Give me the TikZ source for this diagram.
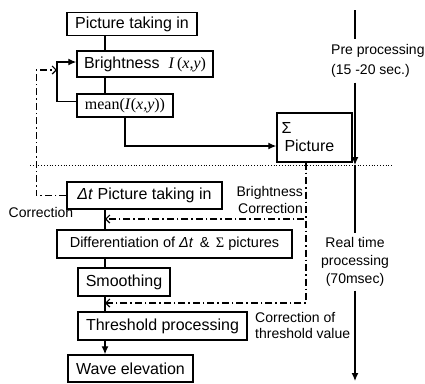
\documentclass[tikz,border=0pt]{standalone}
\usepackage{fontspec}
\setmainfont{Liberation Sans}
\newfontfamily\tmsfont{Liberation Serif}
\usetikzlibrary{arrows.meta,positioning,calc}
\tikzset{
  pbox/.style={rectangle, draw=black, line width=1.4pt, inner sep=2pt, align=center,
               font=\fontsize{16}{18}\selectfont, minimum height=26pt},
  plink/.style={line width=1.3pt},
  parr/.style={-{Latex[length=8pt,width=7pt]}, line width=1.3pt},
  pcorr/.style={-{Straight Barb[length=4pt,width=8pt]}, line width=1.2pt,
                dash pattern=on 7pt off 3pt on 1.5pt off 3pt},
  plbl/.style={font=\fontsize{14}{17}\selectfont, inner sep=0pt},
}
\begin{document}
\begin{tikzpicture}[x=1pt,y=-1pt]
  \useasboundingbox (0,0) rectangle (425,383);
  % pre processing
  \node[pbox,minimum width=130pt,minimum height=23pt](pic) at (132,24){Picture taking in};
  \node[pbox,minimum width=136pt](bright) at (145,64){Brightness\ \ {\tmsfont\textit{I}\,(\textit{x,y})}};
  \node[pbox,minimum width=96pt,minimum height=23pt](mean) at (125,105.5){\tmsfont mean(\textit{I}(\textit{x,y}))};
  \node[pbox,minimum width=75pt,minimum height=49pt,text width=66pt,inner sep=4pt,align=left](sigma) at (314.5,137.5){Σ\\\hspace*{3pt}Picture};
  % real time processing
  \node[pbox,minimum width=155pt,minimum height=27pt](dtpic) at (144.5,195.5){\textit{Δt} Picture taking in};
  \node[pbox,minimum width=235pt,minimum height=28pt,font=\fontsize{14.5}{17}\selectfont](diff) at (174.5,244){Differentiation of \textit{Δt} \,\&\, {\tmsfont Σ} pictures};
  \node[pbox,minimum width=92pt,minimum height=28pt](smooth) at (124,282){Smoothing};
  \node[pbox,minimum width=169pt,minimum height=28pt](thresh) at (162.5,326){Threshold processing};
  \node[pbox,minimum width=125pt,minimum height=27pt](wave) at (130.5,368.5){Wave elevation};
  % labels
  \node[plbl,font=\fontsize{14}{20}\selectfont,align=left,anchor=west,inner ysep=5pt](pre) at (331,61){Pre processing\\(15 -20 sec.)};
  \node[plbl,font=\fontsize{14}{18}\selectfont,align=center,inner ysep=4pt](real) at (355,262){Real time\\processing\\(70msec)};
  \node[plbl,align=right,anchor=east](bcorr) at (303,200){Brightness\\Correction};
  \node[plbl,font=\fontsize{14}{16}\selectfont,align=left,anchor=west](tcorr) at (255,325){Correction of\\threshold value};
  \node[plbl](corr) at (41,212){Correction};
  % points
  \coordinate (spine) at (105,0);
  \coordinate (loop) at (57,0);
  \coordinate (axtop) at (355,10);
  \coordinate (axmid) at (355,165);
  \coordinate (axend) at (355,381);
  \coordinate (cin) at (57,70);
  \coordinate (bin) at (105,219);
  \coordinate (tin) at (105,303);
  % flow
  \draw[plink](pic.south -| spine)--(bright.north -| spine);
  \draw[plink](bright.south -| spine)--(mean.north -| spine);
  \draw[parr]([yshift=4pt]mean.west)--([yshift=4pt]mean.west -| loop)|-([yshift=2pt]bright.west);
  \draw[parr](mean.south)|-([yshift=-8.5pt]sigma.west);
  \draw[plink](dtpic.south -| spine)--(diff.north -| spine);
  \draw[plink](diff.south -| spine)--(smooth.north -| spine);
  \draw[plink](smooth.south -| spine)--(thresh.north -| spine);
  \draw[parr](thresh.south -| spine)--(wave.north -| spine);
  % time axis
  \draw[plink](axtop)--(pre.north -| axtop);
  \draw[parr](pre.south -| axtop)--(axmid);
  \draw[plink](axmid)--(real.north -| axmid);
  \draw[parr](real.south -| axmid)--(axend);
  \draw[dotted,line width=0.8pt](30,165)--(392,165);
  % corrections
  \draw[pcorr](dtpic.west)--++(-30,0)|-(cin);
  \draw[pcorr]([xshift=-8.5pt]sigma.south)|-(bin);
  \draw[pcorr]([xshift=-8.5pt]sigma.south)|-(tin);
\end{tikzpicture}
\end{document}
